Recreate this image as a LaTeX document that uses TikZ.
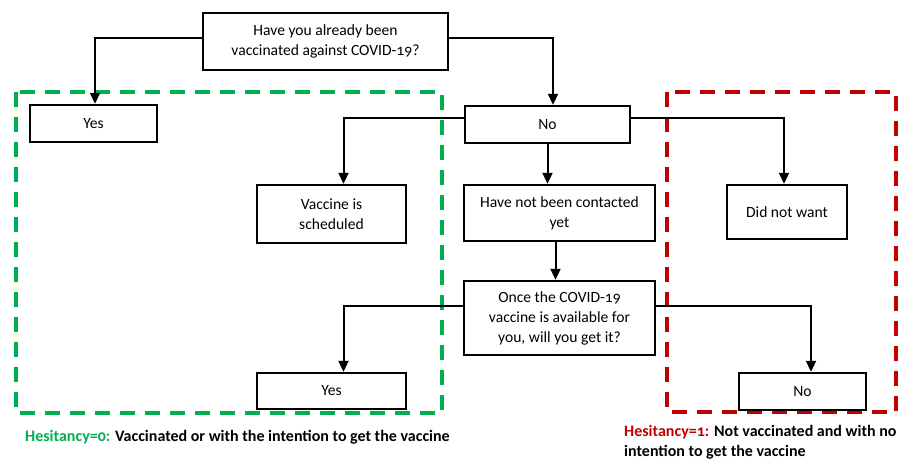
\documentclass[tikz,border=0pt]{standalone}
\usepackage{fontspec}
\setmainfont{Carlito}[Numbers=OldStyle]
\usetikzlibrary{arrows.meta,calc}
\definecolor{hgreen}{RGB}{0,176,80}
\definecolor{hred}{RGB}{192,0,0}
\begin{document}
\begin{tikzpicture}[x=1pt,y=-1pt,
  box/.style={draw=black,line width=2.4pt,fill=white,align=center,inner sep=0pt,
    font=\fontsize{15.6}{20}\selectfont},
  arr/.style={line width=2pt,-{Triangle[length=11pt,width=10pt]}},
  grp/.style={line width=3.5pt,dash pattern=on 15pt off 10pt},
  captext/.style={font=\fontsize{16}{20}\selectfont\bfseries,inner sep=0pt,anchor=west,align=left}]
\useasboundingbox (0,0) rectangle (907,460);
% groups
\draw[grp,hgreen] (16,92) rectangle (442,413);
\draw[grp,hred] (667,92) rectangle (896,412);
% boxes
\node[box,minimum width=245pt,minimum height=57pt] (top) at (325.5,41.5) {Have you already been\\vaccinated against COVID-19?};
\node[box,minimum width=127pt,minimum height=37pt] (yes1) at (93.5,123.5) {Yes};
\node[box,minimum width=165pt,minimum height=37pt] (no1) at (547.5,124.5) {No};
\node[box,minimum width=149pt,minimum height=58pt] (sched) at (331.5,214) {Vaccine is\\scheduled};
\node[box,minimum width=191pt,minimum height=56pt] (notc) at (559.5,213) {Have not been contacted\\yet};
\node[box,minimum width=120pt,minimum height=54pt] (didnot) at (787,212) {Did not want};
\node[box,minimum width=191pt,minimum height=74pt] (once) at (559.5,318) {Once the COVID-19\\vaccine is available for\\you, will you get it?};
\node[box,minimum width=149pt,minimum height=36pt] (yes2) at (331.5,391) {Yes};
\node[box,minimum width=127pt,minimum height=37pt] (no2) at (802.5,391.5) {No};
% connectors
\draw[arr] ([yshift=3.5pt]top.west) -| ([xshift=1.5pt]yes1.north);
\draw[arr] ([yshift=3.5pt]top.east) -| ([xshift=5.5pt]no1.north);
\draw[arr] ([yshift=7pt]no1.west) -| ([xshift=12pt]sched.north);
\draw[arr] (no1.south) -- (no1.south |- notc.north);
\draw[arr] ([yshift=7pt]no1.east) -| ([xshift=-3pt]didnot.north);
\draw[arr] ([xshift=-4pt]notc.south) -- ([xshift=-4pt]once.north);
\draw[arr] ([yshift=12pt]once.west) -| ([xshift=12pt]yes2.north);
\draw[arr] ([yshift=12pt]once.east) -| ([xshift=8.5pt]no2.north);
% captions
\node[captext] (capg) at (25,437) {\textcolor{hgreen}{Hesitancy=0:} Vaccinated or with the intention to get the vaccine};
\node[captext,anchor=north west] (capr) at (624,425) {\textcolor{hred}{Hesitancy=1:} Not vaccinated and with no\\intention to get the vaccine};
\end{tikzpicture}
\end{document}
